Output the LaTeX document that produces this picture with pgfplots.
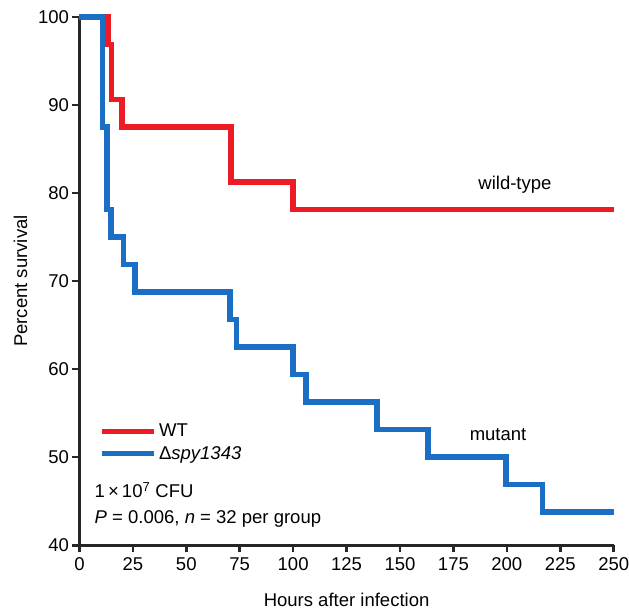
\documentclass[border=0pt]{standalone}
\usepackage{pgfplots}
\pgfplotsset{compat=1.18}
\usepackage{fontspec}
\setmainfont{Liberation Sans}
\definecolor{wtred}{RGB}{237,28,36}
\definecolor{mutblue}{RGB}{26,111,196}
\newcommand{\fs}{\fontsize{18.5}{21}\selectfont}
\begin{document}
\begin{tikzpicture}
\begin{axis}[
  scale only axis,
  width=534pt, height=528pt,
  xmin=0, xmax=250, ymin=40, ymax=100,
  axis lines*=left,
  axis line style={line width=2.5pt, black!85},
  xtick={0,25,...,250}, ytick={40,50,...,100},
  tick align=outside,
  major tick length=7pt,
  tick style={line width=2.5pt, black!85},
  /pgf/number format/assume math mode=true,
  tick label style={font=\fs},
  xticklabel style={yshift=-2pt},
  label style={font=\fs},
  xlabel={Hours after infection},
  ylabel={Percent survival},
  xlabel style={at={(rel axis cs:0.5,0)}, anchor=center, yshift=-55pt},
  ylabel style={at={(rel axis cs:0,0.5)}, anchor=center, yshift=59pt},
  clip=false,
  legend style={draw=none, fill=none, at={(axis cs:9.3,54.0)}, anchor=north west,
    font=\fs, inner sep=0pt, row sep=4pt,
    legend cell align=left},
  legend image code/.code={\draw[#1, line cap=butt] (0pt,0pt) -- (45pt,0pt); \path (0pt,0pt) -- (52pt,0pt);},
]
\coordinate (bl) at (rel axis cs:0,0);
\coordinate (tr) at (rel axis cs:1,1);
\addplot[const plot, wtred, line width=5.5pt, line join=miter] coordinates {
(0,100) (13.3,96.875) (15,90.625) (20,87.5) (71,81.25) (100,78.125) (250,78.125)};
\addlegendentry{WT}
\addplot[const plot, mutblue, line width=5.5pt, line join=miter] coordinates {
(0,100) (10.7,87.5) (12.8,78.125) (14.8,75) (20.7,71.875) (25.9,68.75)
(70.5,65.625) (73.6,62.5) (100,59.375) (106,56.25) (139.3,53.125)
(163.2,50) (199.5,46.875) (216.6,43.75) (250,43.75)};
\addlegendentry{Δ\textit{spy1343}}
\node[font=\fs] at (axis cs:203.8,80.9) {wild-type};
\node[font=\fs] at (axis cs:195.9,52.6) {mutant};
\node[font=\fs, anchor=west] at (axis cs:5.5,46.25) {1\,×\,10\textsuperscript{7} CFU};
\node[font=\fs, anchor=west] at (axis cs:5.5,42.95) {\textit{P} = 0.006, \textit{n} = 32 per group};
\end{axis}
\pgfresetboundingbox
\path ([shift={(-79.4pt,-70pt)}]bl) rectangle ([shift={(15.3pt,17pt)}]tr);
\end{tikzpicture}
\end{document}
